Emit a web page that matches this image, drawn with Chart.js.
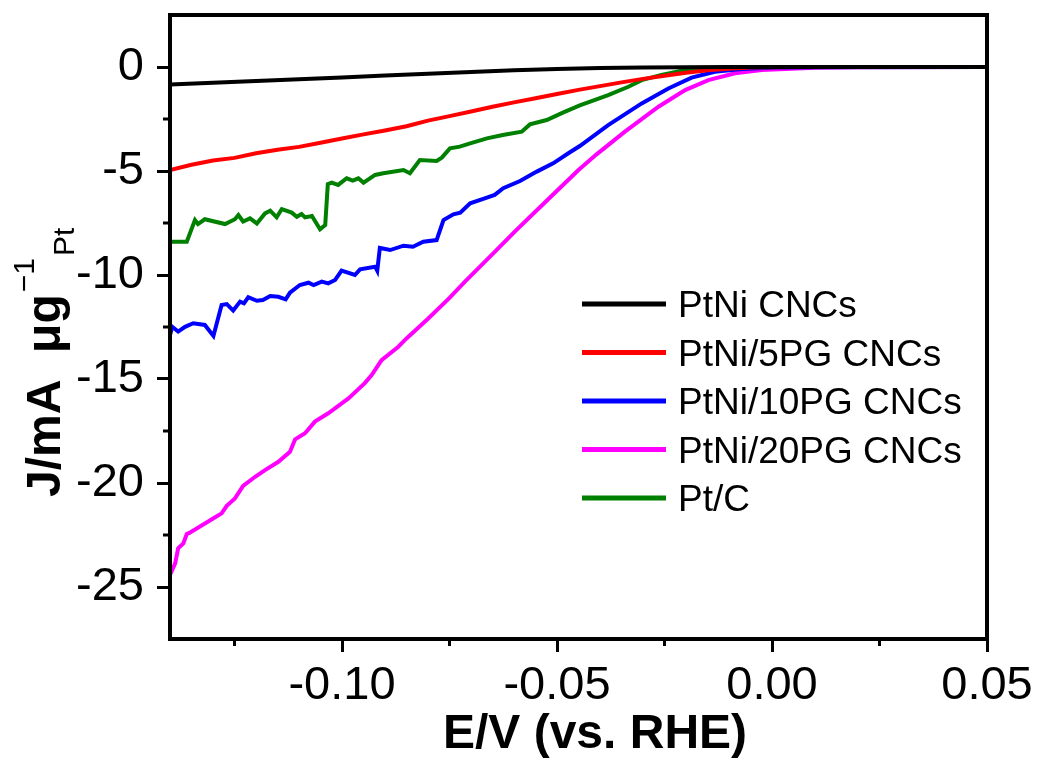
<!DOCTYPE html>
<html>
<head>
<meta charset="utf-8">
<script src="https://cdn.jsdelivr.net/npm/chart.js@4.4.1/dist/chart.umd.min.js"></script>
<style>
  body { margin: 0; background: #fff; }
  #wrap { width: 1038px; height: 760px; }
</style>
</head>
<body>
<div id="wrap"><canvas id="chart" width="1038" height="760"></canvas></div>
<script>
// series labels and colours
const seriesNames = ["PtNi CNCs", "PtNi/5PG CNCs", "PtNi/10PG CNCs", "PtNi/20PG CNCs", "Pt/C"];
const seriesColors = ["#000000", "#ff0000", "#0000ff", "#ff00ff", "#008000"];

// PtNi CNCs
const blackX = [-0.14, -0.13, -0.12, -0.11, -0.10, -0.09, -0.08, -0.07, -0.06, -0.05, -0.04, -0.03, -0.02, -0.01, 0, 0.01, 0.02, 0.03, 0.04, 0.05];
const blackY = [-0.84, -0.76, -0.67, -0.59, -0.50, -0.41, -0.32, -0.24, -0.16, -0.10, -0.05, -0.02, -0.01, 0, 0, 0, 0, 0, 0, 0];

// PtNi/5PG CNCs
const redX = [-0.14, -0.135, -0.13, -0.125, -0.12, -0.115, -0.11, -0.105, -0.10, -0.095, -0.09, -0.085, -0.08, -0.075, -0.07, -0.065, -0.06, -0.055, -0.05, -0.045, -0.04, -0.035, -0.03, -0.025, -0.02, -0.015, -0.01, -0.005, 0, 0.005, 0.01, 0.05];
const redY = [-4.95, -4.70, -4.50, -4.37, -4.15, -3.98, -3.84, -3.64, -3.44, -3.24, -3.05, -2.85, -2.58, -2.36, -2.14, -1.91, -1.70, -1.50, -1.30, -1.10, -0.92, -0.74, -0.57, -0.42, -0.28, -0.16, -0.08, -0.03, -0.01, 0, 0, 0];

// PtNi/10PG CNCs
const blueX = [-0.14, -0.1395, -0.1381, -0.1365, -0.1346, -0.1319, -0.1299, -0.128, -0.1268, -0.1253, -0.1237, -0.1228, -0.1218, -0.1198, -0.1184, -0.1167, -0.1148, -0.1131, -0.1121, -0.1098, -0.1078, -0.1066, -0.1047, -0.1032, -0.1016, -0.1001, -0.097, -0.0958, -0.0923, -0.0918, -0.0912, -0.0888, -0.0857, -0.0835, -0.0811, -0.078, -0.0764, -0.0741, -0.0725, -0.0702, -0.0663, -0.0645, -0.0625, -0.0586, -0.0547, -0.0509, -0.047, -0.0447, -0.0381, -0.0303, -0.0241, -0.0187, -0.0133, -0.007, 0.0007, 0.01, 0.05];
const blueY = [-12.9, -12.49, -12.72, -12.49, -12.32, -12.4, -12.93, -11.44, -11.4, -11.71, -11.28, -11.36, -11.07, -11.24, -11.2, -11.01, -11.05, -11.17, -10.85, -10.48, -10.37, -10.48, -10.32, -10.4, -10.24, -9.79, -10.0, -9.73, -9.6, -9.8, -8.7, -8.8, -8.59, -8.64, -8.4, -8.32, -7.36, -7.08, -7.0, -6.55, -6.28, -6.15, -5.83, -5.48, -5.03, -4.63, -4.1, -3.8, -2.79, -1.75, -1.03, -0.51, -0.23, -0.1, -0.03, -0.01, 0];

// PtNi/20PG CNCs
const magentaX = [-0.14, -0.1388, -0.1381, -0.1369, -0.1361, -0.1355, -0.1295, -0.128, -0.1268, -0.1249, -0.123, -0.1202, -0.1179, -0.1148, -0.1121, -0.1109, -0.1086, -0.1063, -0.1032, -0.0985, -0.0947, -0.0931, -0.0908, -0.0869, -0.085, -0.08, -0.075, -0.0714, -0.065, -0.06, -0.055, -0.05, -0.045, -0.0408, -0.0342, -0.0264, -0.0202, -0.0148, -0.0086, -0.0024, 0.0031, 0.01, 0.02, 0.05];
const magentaY = [-24.42, -23.86, -23.14, -22.9, -22.45, -22.4, -21.65, -21.46, -21.1, -20.74, -20.14, -19.7, -19.38, -18.98, -18.5, -17.9, -17.61, -17.05, -16.65, -15.93, -15.2, -14.81, -14.09, -13.45, -13.05, -12.1, -11.1, -10.32, -9.0, -7.95, -6.95, -5.95, -4.95, -4.2, -3.11, -1.91, -1.11, -0.63, -0.3, -0.14, -0.1, -0.04, -0.01, 0];

// Pt/C
const greenX = [-0.14, -0.1361, -0.1342, -0.1335, -0.1319, -0.1272, -0.1249, -0.1241, -0.123, -0.1214, -0.1198, -0.1179, -0.1167, -0.1152, -0.114, -0.1117, -0.1105, -0.1094, -0.1086, -0.107, -0.1051, -0.1039, -0.1033, -0.1024, -0.1009, -0.0989, -0.0975, -0.0962, -0.095, -0.0923, -0.0904, -0.0857, -0.0842, -0.0819, -0.078, -0.0768, -0.0749, -0.0726, -0.0702, -0.0663, -0.0626, -0.0582, -0.0563, -0.0524, -0.0485, -0.0447, -0.0381, -0.0334, -0.0303, -0.0257, -0.0202, -0.0149, -0.01, 0, 0.05];
const greenY = [-8.4, -8.4, -7.36, -7.55, -7.32, -7.55, -7.32, -7.12, -7.43, -7.28, -7.52, -7.04, -6.91, -7.23, -6.83, -7.0, -7.2, -7.07, -7.23, -7.16, -7.8, -7.6, -5.63, -5.56, -5.67, -5.35, -5.46, -5.35, -5.56, -5.19, -5.11, -4.95, -5.11, -4.47, -4.52, -4.36, -3.91, -3.83, -3.67, -3.43, -3.27, -3.11, -2.76, -2.55, -2.18, -1.85, -1.35, -0.95, -0.63, -0.38, -0.14, -0.06, -0.02, 0, 0];

// axis ticks
const xTickValues = [-0.10, -0.05, 0.00, 0.05];
const xTickLabels = ["-0.10", "-0.05", "0.00", "0.05"];
const xMinorTicks = [-0.125, -0.075, -0.025, 0.025];
const yTickValues = [0, -5, -10, -15, -20, -25];
const yTickLabels = ["0", "-5", "-10", "-15", "-20", "-25"];
const yMinorTicks = [-2.5, -7.5, -12.5, -17.5, -22.5];

const FONT = "'Liberation Sans', Arial, sans-serif";

function pts(xs, ys) {
  return xs.map((x, i) => ({ x: x, y: ys[i] }));
}

const seriesData = [
  pts(blackX, blackY),
  pts(redX, redY),
  pts(blueX, blueY),
  pts(magentaX, magentaY),
  pts(greenX, greenY)
];

// frame, minor ticks, axis titles and legend
const extras = {
  id: "extras",
  afterDatasetsDraw(chart) {
    const ctx = chart.ctx;
    const a = chart.chartArea;
    const xs = chart.scales.x, ys = chart.scales.y;
    ctx.save();
    ctx.strokeStyle = "#000";
    ctx.lineWidth = 4;
    ctx.strokeRect(a.left, a.top, a.right - a.left, a.bottom - a.top);
    ctx.lineWidth = 3;
    ctx.beginPath();
    xMinorTicks.forEach(v => {
      const p = xs.getPixelForValue(v);
      ctx.moveTo(p, a.bottom);
      ctx.lineTo(p, a.bottom + 7);
    });
    yMinorTicks.forEach(v => {
      const p = ys.getPixelForValue(v);
      ctx.moveTo(a.left, p);
      ctx.lineTo(a.left - 7, p);
    });
    ctx.stroke();
    ctx.restore();
  },
  afterDraw(chart) {
    const ctx = chart.ctx;
    ctx.save();
    ctx.fillStyle = "#000";
    // x axis title
    ctx.font = "bold 48px " + FONT;
    ctx.textAlign = "center";
    ctx.textBaseline = "alphabetic";
    ctx.fillText("E/V (vs. RHE)", 595, 748);

    // y axis title with superscript and subscript
    ctx.translate(60, 497);
    ctx.rotate(-Math.PI / 2);
    ctx.textAlign = "left";
    const main = "J/mA  \u03bcg";
    ctx.fillText(main, 0, 0);
    let w = ctx.measureText(main).width;
    ctx.font = "30px " + FONT;
    ctx.fillText("\u22121", w + 2, -26);
    const w2 = ctx.measureText("\u22121").width;
    ctx.fillText("Pt", w + w2 + 4, 14);
    ctx.restore();

    // legend
    ctx.save();
    ctx.font = "37px " + FONT;
    ctx.textBaseline = "alphabetic";
    chart.data.datasets.forEach((ds, i) => {
      const y = 304 + i * 48.5;
      ctx.strokeStyle = ds.borderColor;
      ctx.lineWidth = 5;
      ctx.beginPath();
      ctx.moveTo(582, y);
      ctx.lineTo(666, y);
      ctx.stroke();
      ctx.fillStyle = "#000";
      ctx.fillText(ds.label, 678, y + 13);
    });
    ctx.restore();
  }
};

new Chart(document.getElementById("chart"), {
  type: "line",
  data: {
    datasets: seriesNames.map((name, i) => ({
      label: name,
      data: seriesData[i],
      borderColor: seriesColors[i],
      backgroundColor: seriesColors[i],
      borderWidth: 4,
      pointRadius: 0,
      tension: 0,
      fill: false
    }))
  },
  options: {
    responsive: false,
    animation: false,
    layout: { padding: { top: 15, right: 51, left: 0, bottom: 0 } },
    plugins: {
      legend: { display: false },
      tooltip: { enabled: false }
    },
    scales: {
      x: {
        type: "linear",
        min: -0.14,
        max: 0.05,
        afterBuildTicks: s => { s.ticks = xTickValues.map(v => ({ value: v })); },
        afterFit: s => { s.height = 121; s.paddingLeft = 0; s.paddingRight = 0; },
        ticks: {
          callback: (v, i) => xTickLabels[i],
          font: { family: FONT, size: 47 },
          color: "#000",
          padding: 6,
          maxRotation: 0,
          autoSkip: false
        },
        grid: { drawOnChartArea: false, tickLength: 13, tickWidth: 3, tickColor: "#000" },
        border: { display: false }
      },
      y: {
        type: "linear",
        min: -27.5,
        max: 2.5,
        afterBuildTicks: s => { s.ticks = yTickValues.map(v => ({ value: v })); },
        afterFit: s => { s.width = 170; s.paddingTop = 0; s.paddingBottom = 0; },
        ticks: {
          callback: (v, i) => yTickLabels[i],
          font: { family: FONT, size: 47 },
          color: "#000",
          padding: 13,
          autoSkip: false
        },
        grid: { drawOnChartArea: false, tickLength: 13, tickWidth: 3, tickColor: "#000" },
        border: { display: false }
      }
    }
  },
  plugins: [extras]
});
</script>
</body>
</html>
